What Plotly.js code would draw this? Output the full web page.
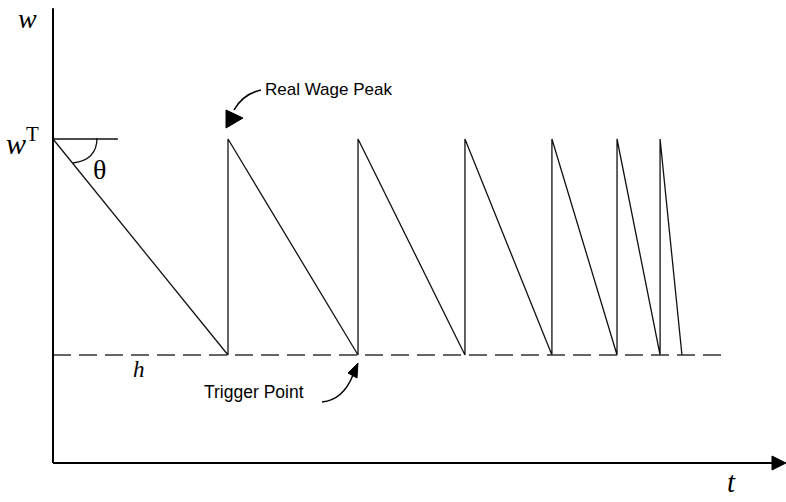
<!DOCTYPE html>
<html>
<head>
<meta charset="utf-8">
<script src="https://cdn.plot.ly/plotly-3.0.1.min.js"></script>
<style>html,body{margin:0;padding:0;background:#fff;}#chart{width:786px;height:502px;}</style>
</head>
<body>
<div id="chart"></div>
<script>
// ---- data (time units, wage levels) ----
const peakTimes    = [0, 10, 17.43, 23.54, 28.51, 32.23, 34.69];
const triggerTimes = [10, 17.43, 23.54, 28.51, 32.23, 34.69, 35.94];
const wageTarget = 3;      // w^T
const triggerLevel = 1;    // h
const hLineEnd = 38.4;     // extent of dashed trigger line
const wTLineEnd = 3.71;    // extent of horizontal reference at w^T
const tMax = 41.2;         // end of time axis (before arrow)
const wMax = 4.21;         // top of wage axis

// ---- layout helpers (pixel -> axis units) ----
const W = 786, H = 502, OX = 53, OY = 463, SX = 17.5, SY = 108;
const X = p => (p - OX) / SX;
const Y = p => (OY - p) / SY;

// sawtooth path
const sx = [], sy = [];
for (let i = 0; i < peakTimes.length; i++) {
  sx.push(peakTimes[i]); sy.push(wageTarget);
  sx.push(triggerTimes[i]); sy.push(triggerLevel);
}

const traces = [
  {x: sx, y: sy, mode: 'lines', line: {color: '#111', width: 1.3}, hoverinfo: 'skip'},
  {x: [0, hLineEnd], y: [triggerLevel, triggerLevel], mode: 'lines',
   line: {color: '#333', width: 1.5, dash: '18px,8px'}, hoverinfo: 'skip'},
  {x: [0, wTLineEnd], y: [wageTarget, wageTarget], mode: 'lines',
   line: {color: '#111', width: 1.3}, hoverinfo: 'skip'}
];

function P(pts) {
  return pts.map((p, i) => (i === 0 ? 'M ' : 'L ') + X(p[0]) + ' ' + Y(p[1])).join(' ') + ' Z';
}
function Q(a, c, b) {
  return 'M ' + X(a[0]) + ' ' + Y(a[1]) + ' Q ' + X(c[0]) + ' ' + Y(c[1]) + ' ' + X(b[0]) + ' ' + Y(b[1]);
}

const shapes = [
  // axes
  {type: 'line', xref: 'x', yref: 'y', x0: 0, y0: 0, x1: 0, y1: wMax, line: {color: '#000', width: 2}},
  {type: 'line', xref: 'x', yref: 'y', x0: 0, y0: 0, x1: tMax, y1: 0, line: {color: '#000', width: 2}},
  {type: 'path', xref: 'x', yref: 'y', path: P([[772, 456], [786, 463], [772, 470]]), fillcolor: '#000', line: {color: '#000', width: 1}},
  // theta arc
  {type: 'path', xref: 'x', yref: 'y', path: Q([97, 138], [97, 160], [73, 163]), line: {color: '#111', width: 1.3}},
  // Real Wage Peak pointer
  {type: 'path', xref: 'x', yref: 'y', path: Q([261, 90], [243, 94], [234, 110]), line: {color: '#000', width: 1.5}},
  {type: 'path', xref: 'x', yref: 'y', path: P([[226, 110], [226, 128], [243, 118]]), fillcolor: '#000', line: {color: '#000', width: 1}},
  // Trigger Point pointer
  {type: 'path', xref: 'x', yref: 'y', path: Q([322, 402], [343, 400], [353, 375]), line: {color: '#000', width: 1.5}},
  {type: 'path', xref: 'x', yref: 'y', path: P([[358, 363], [348, 373], [357, 378]]), fillcolor: '#000', line: {color: '#000', width: 1}}
];

const serif = 'Liberation Serif, Times New Roman, serif';
const sans = 'Liberation Sans, Arial, sans-serif';
const ann = (px, py, text, size, family, xa) => ({
  x: X(px), y: Y(py), xref: 'x', yref: 'y', text: text, showarrow: false,
  xanchor: xa || 'center', yanchor: 'middle', font: {family: family, size: size, color: '#000'}
});

const annotations = [
  ann(27, 18, '<i>w</i>', 28, serif),
  ann(4, 141, '<i>w</i><sup>T</sup>', 30, serif, 'left'),
  ann(99, 169, 'θ', 28, serif),
  ann(139, 369, '<i>h</i>', 23, serif),
  ann(731, 482, '<i>t</i>', 29, serif),
  ann(263, 89, 'Real Wage Peak', 17, sans, 'left'),
  ann(254, 392, 'Trigger Point', 17.5, sans)
];

const layout = {
  width: W, height: H,
  margin: {l: 0, r: 0, t: 0, b: 0},
  paper_bgcolor: '#fff', plot_bgcolor: '#fff',
  showlegend: false,
  xaxis: {range: [X(0), X(W)], visible: false, fixedrange: true},
  yaxis: {range: [Y(H), Y(0)], visible: false, fixedrange: true},
  shapes: shapes,
  annotations: annotations
};

Plotly.newPlot('chart', traces, layout, {staticPlot: true, displayModeBar: false});
</script>
</body>
</html>
